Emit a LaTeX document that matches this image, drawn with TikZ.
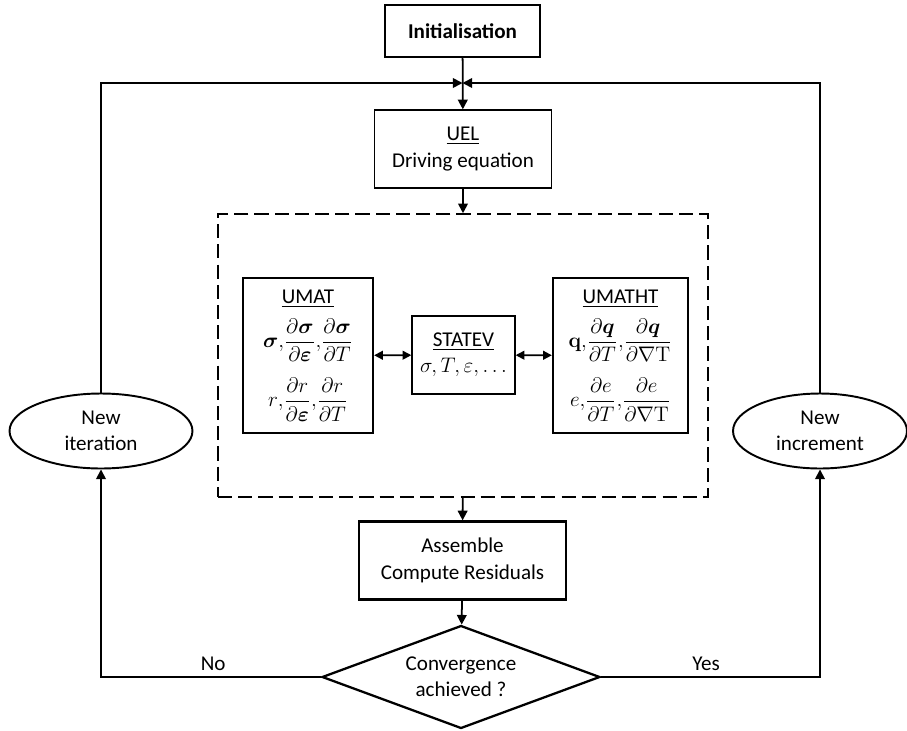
\documentclass[tikz,border=0pt]{standalone}
\usepackage{amsmath, amssymb}
\usepackage[no-math]{fontspec}
\setmainfont{Carlito}
\usepackage{tikz}
\usetikzlibrary{arrows.meta, shapes.geometric}

\newcommand{\mathrow}{\fontsize{13}{15}\selectfont}

\begin{document}
\begin{tikzpicture}[x=0.02cm, y=-0.02cm,
  font=\fontsize{12}{15}\selectfont,
  box/.style={draw, line width=1.3pt, align=center, inner sep=0pt},
  thinbox/.style={draw, line width=0.75pt, align=center, inner sep=0pt},
  conn/.style={line width=1pt, -{Triangle[length=5.5pt, width=5.5pt]}},
  both/.style={line width=1pt, {Triangle[length=5pt, width=5pt]}-{Triangle[length=5pt, width=5pt]}}]
  % ----- Frame: fixed to the reference size -----
  \useasboundingbox (0,0) rectangle (907,731);

  % ----- Top: start and driving equation -----
  \node[box, minimum width=3.1cm, minimum height=1.04cm, font=\fontsize{12}{15}\selectfont\bfseries] (init) at (462.5,31) {Initialisation};
  \coordinate (join) at (462.5,83);
  \node[thinbox, minimum width=3.54cm, minimum height=1.56cm] (uel) at (463,149) {\underline{UEL}\\Driving equation};

  % ----- Middle: material subroutines inside the dashed frame -----
  \node[draw, line width=0.9pt, dash pattern=on 8pt off 3.5pt, minimum width=9.8cm, minimum height=5.66cm] (sub) at (463,355.5) {};
  \node[box, minimum width=2.6cm, minimum height=3.1cm] (umat) at (308,355.5)
    {\underline{UMAT}\\[5pt]
     \mathrow$\boldsymbol{\sigma}{,}\dfrac{\partial\boldsymbol{\sigma}}{\partial\boldsymbol{\varepsilon}}{,}\dfrac{\partial\boldsymbol{\sigma}}{\partial T}$\\[8pt]
     \mathrow$r{,}\dfrac{\partial r}{\partial\boldsymbol{\varepsilon}}{,}\dfrac{\partial r}{\partial T}$};
  \node[thinbox, minimum width=2.06cm, minimum height=1.56cm] (statev) at (463.5,355) {\underline{STATEV}\\$\sigma,T,\varepsilon,\ldots$};
  \node[box, minimum width=2.7cm, minimum height=3.1cm] (umatht) at (620.5,355.5)
    {\underline{UMATHT}\\[5pt]
     \mathrow$\mathbf{q}{,}\dfrac{\partial\boldsymbol{q}}{\partial T}{,}\dfrac{\partial\boldsymbol{q}}{\partial\nabla\mathrm{T}}$\\[8pt]
     \mathrow$e{,}\dfrac{\partial e}{\partial T}{,}\dfrac{\partial e}{\partial\nabla\mathrm{T}}$};

  % ----- Bottom: assembly and convergence check -----
  \node[box, minimum width=4.14cm, minimum height=1.56cm] (asm) at (462.5,560.5) {Assemble\\Compute Residuals};
  \node[box, shape=diamond, aspect=2.7, minimum width=5.56cm, minimum height=2.06cm] (conv) at (461,677) {Convergence\\achieved ?};

  % ----- Sides: iteration and increment loops -----
  \node[box, line width=1.1pt, shape=ellipse, minimum width=3.66cm, minimum height=1.5cm] (iter) at (101,431) {New\\iteration};
  \node[box, line width=1.1pt, shape=ellipse, minimum width=3.48cm, minimum height=1.5cm] (incr) at (820,431) {New\\increment};

  % ----- Connectors -----
  \draw[conn] (init) -- (uel);
  \draw[conn] (uel) -- (sub);
  \draw[both] (umat) -- (statev);
  \draw[both] (statev) -- (umatht);
  \draw[conn] (sub) -- (asm);
  \draw[conn] (asm) -- (conv);
  \draw[conn] (conv.west) -| (iter.south) node[pos=0.245, above] {No};
  \draw[conn] (conv.east) -| (incr.south) node[pos=0.24, above] {Yes};
  \draw[conn] (iter.north) |- (join);
  \draw[conn] (incr.north) |- (join);
\end{tikzpicture}
\end{document}
